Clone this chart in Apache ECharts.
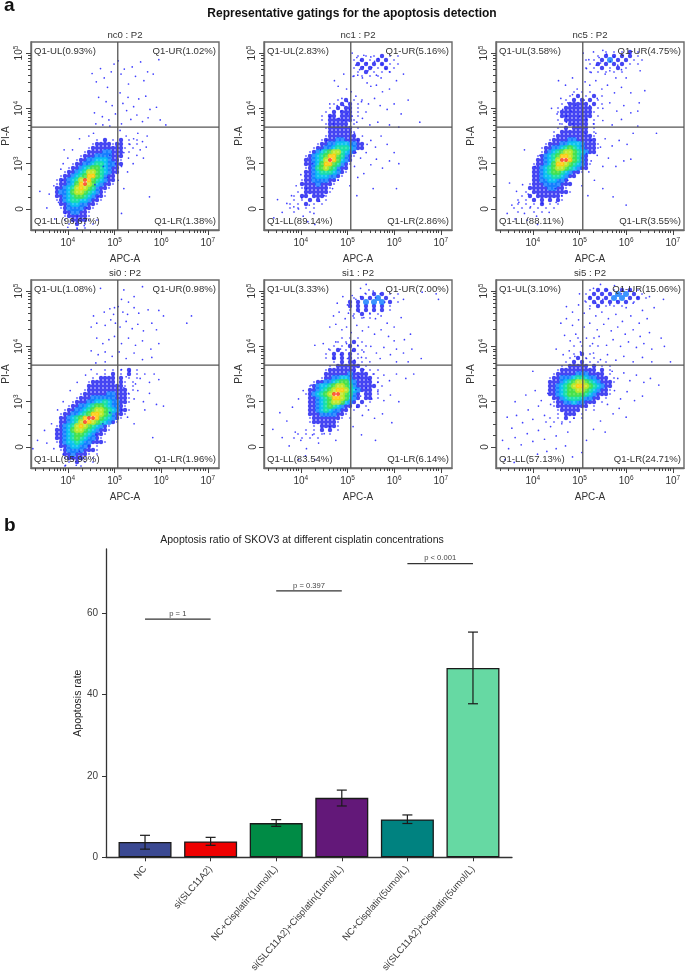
<!DOCTYPE html>
<html><head><meta charset="utf-8">
<style>html,body{margin:0;padding:0;background:#fff}#c{width:685px;height:974px}</style>
<script src="https://cdn.jsdelivr.net/npm/echarts@6/dist/echarts.min.js"></script>
</head><body><div id="c"></div>
<script>
// ---------- Panel a: values ----------
const panelNames = ["nc0","nc1","nc5","si0","si1","si5"];
const ulLabels = ["Q1-UL(0.93%)","Q1-UL(2.83%)","Q1-UL(3.58%)","Q1-UL(1.08%)","Q1-UL(3.33%)","Q1-UL(3.10%)"];
const urLabels = ["Q1-UR(1.02%)","Q1-UR(5.16%)","Q1-UR(4.75%)","Q1-UR(0.98%)","Q1-UR(7.00%)","Q1-UR(15.06%)"];
const llLabels = ["Q1-LL(96.67%)","Q1-LL(89.14%)","Q1-LL(88.11%)","Q1-LL(95.99%)","Q1-LL(83.54%)","Q1-LL(57.13%)"];
const lrLabels = ["Q1-LR(1.38%)","Q1-LR(2.86%)","Q1-LR(3.55%)","Q1-LR(1.96%)","Q1-LR(6.14%)","Q1-LR(24.71%)"];
const xTicks = [4,5,6,7];
const yTicks = [2.18,3,4,5];
const yTickExp = {3:3,4:4,5:5};
const xRange = [3.21,7.24];
const yRange = [1.8,5.2];
const gateX = 5.07;
const gateY = 3.66;
const densityCells = 47;

// density maps: [row from top, digits by column]; digit = colour class, '.' = empty
const nc0Density = [[24,"................1.2.1.2.1.1"],[25,"...............12222122.1.1"],[26,"..............1222222221.1"],[27,".............1222233222.1"],[28,"............12223333222"],[29,"...........122334443221"],[30,"..........1223345543322"],[31,".........1223456654322"],[32,"........12234577654322"],[33,".......12234568865322"],[34,"......122345798654322"],[35,"......122346897643221"],[36,"......22345787653221"],[37,"......2334677654321"],[38,"......2234566543221"],[39,"......123455443221"],[40,".......2234433221"],[41,".......123333221"],[42,"........2233221"],[43,"........1222221"],[44,"........1.22221.1"],[45,".........1.2.1.1"],[46,"...........1.1"]];
const nc1Density = [[3,".......................1.1.1.2.1.1"],[4,"......................1.2.1.2.2.1"],[5,".......................2.2.2.2.1.1"],[6,"......................1.2.2.1.2.1"],[7,".......................1.2.1.1.1"],[8,"......................1.1.1.1"],[14,"..................1.2.1.1"],[15,".................1.2.2.1"],[16,"................1.2.22.1"],[17,"...............1.2.222.1.1"],[18,"..............1.22.222.1"],[19,"..............1.2222221"],[20,"...............122222.1"],[21,"...............1222222.1"],[22,"................2222221"],[23,"...............12222222"],[24,"..............1222332222"],[25,".............122334443322"],[26,"............1223345554322"],[27,"...........123456775432"],[28,"..........1234568865321"],[29,"..........223457986432"],[30,"..........223468865321"],[31,"..........12356765322"],[32,"..........22345554321"],[33,"..........2234443321"],[34,".........1223333221"],[35,".........222232221"],[36,".........12222221"],[37,"........1.2222221"],[38,".......1.22.2221"],[39,".......1.1.2.2.1"],[40,"......1.1.2.1.1"],[41,"......1.1.1.1"],[42,".......1...1"]];
const nc5Density = [[2,"...........................1.1.1.2.1"],[3,".........................1.2.2.2.2.1"],[4,"......................1.1.2.3.2.2.1.1"],[5,".......................1.2.2.2.2.1.1"],[6,"......................1.1.2.1.2.1"],[7,".......................1.1.1.1.1"],[12,"...................1.1.1"],[13,"..................1.2.1.2.1"],[14,".................1.2.2.2.1"],[15,"................1.22222.2.1"],[16,"...............1.2222222.1"],[17,"...............1222222221"],[18,"................22222222.1"],[19,"...............1.222222.1"],[20,"................1.22222.1"],[21,"...............1.2.2222.1"],[22,"..............1.2222222.1"],[23,"..............12222222221"],[24,".............122223322222"],[25,"............12223344432221"],[26,"...........122334565432221"],[27,"...........12345677654322"],[28,"..........1234568876532"],[29,"..........2234579986532"],[30,".........122346887654321"],[31,".........22345677654322"],[32,".........2234566543221"],[33,".........22344554322"],[34,".........223344332"],[35,"........12223333222"],[36,"........2222233221"],[37,".......1.2222222221"],[38,"......1.2.2222221"],[39,".....1.1.2.2.2.21"],[40,".....1.1.1.2.1.1"],[41,"....1.1.1.1.1.1"],[42,".....1...1.1"]];
const si0Density = [[22,"..................1.1.1.2.1"],[23,"................1.1.2.1.2.1"],[24,"...............1.2222.2.1.1"],[25,"..............1222222.21.1"],[26,"..............2222222221.1"],[27,".............12222222222.1"],[28,"............1222222332221"],[29,"...........12223333332221"],[30,"..........122233445433221"],[31,".........122334566543321"],[32,"........12233456776543221"],[33,".......12233456887653221"],[34,".......2234568998654321"],[35,".......223457987654321"],[36,"......12345787654321"],[37,"......22346776543221"],[38,"......2234566543221"],[39,"......223456543321"],[40,"......1234454332221"],[41,".......22344332.1"],[42,".......1233332221"],[43,"........2232221.1"],[44,"........122221.1"],[45,".........1.2.1.1"],[46,"........1...1"]];
const si1Density = [[3,".........................1.2.2.1.1"],[4,"......................1.2.2.3.2.1"],[5,".....................2.2.3.3.3.2.1"],[6,".....................2.2.2.2.2.1"],[7,".....................1.2.2.2.2.1"],[8,"......................1.2.1.1"],[9,"......................1.1.1"],[14,"...................1.1.1"],[15,"..................1.1.2.1"],[16,".................1.1.2.1.1"],[17,"................1.2.1.2.1"],[18,"...............1.2.2.2.1"],[19,"...............1.2.2.2.1.1"],[20,".................1.2.22.1"],[21,"................1.222222.1"],[22,"...............12222222.2.1.1"],[23,"...............22222232222.1"],[24,"..............1223344322222.1"],[25,"............122334566432222.1"],[26,"...........12344567765322222.1"],[27,"...........2234567887543222.1"],[28,"..........12345679976532.22.1"],[29,"...........2234568876432.22.1"],[30,"...........223456776432.2.1"],[31,"...........22345654322.2.1"],[32,"...........2234543322.1"],[33,"...........2223333221"],[34,"...........122222221.1"],[35,"...........12222221"],[36,"............1.22221"],[37,"..........1.1.2.2.1"],[38,"........1.1.1.1.1"],[39,".......1.1.1.1"]];
const si5Density = [[2,".......................1.2.2.1.2.2.1"],[3,"......................1.2.2.2.3.3.2.1"],[4,".......................2.2.2.3.3.2.2.1"],[5,"......................1.2.2.2.2.2.1"],[6,".......................1.2.1.1.1"],[14,"....................1...1"],[16,"...................1.1.1.1"],[18,"...................1.2.1"],[19,"..................1.2.1.1"],[20,".................1.2.2.1.1.1"],[21,"................1.22222.2.1.1"],[22,"...............1222222222.2.1"],[23,"..............1222223332222.1"],[24,".............122333455433222.1"],[25,".............22234567765432221"],[26,".............2234567887654322"],[27,".............2234566776543221"],[28,".............2234566665432221"],[29,"..............223455543322.1"],[30,"..............12233433222.1"],[31,"..............122222222.1"],[32,"...............122222.1.1"],[33,"...............1.222.1"],[34,".............1.1.2.1.1"],[35,"............1.1.1.1"]];

const nc0Dots = [[4.52,4.63],[4.61,4.48],[4.7,4.72],[4.78,4.55],[4.85,4.38],[4.93,4.66],[4.99,4.8],[5.08,4.86],[5.14,4.62],[5.21,4.71],[5.3,4.44],[5.38,4.75],[5.45,4.58],[5.56,4.84],[5.63,4.5],[5.71,4.66],[5.83,4.62],[5.95,4.88],[5.12,4.28],[4.66,4.2],[4.82,4.12],[4.95,4.05],[5.18,4.09],[5.29,4.2],[5.41,4.03],[5.52,4.17],[5.67,4.22],[5.76,3.98],[5.9,4.02],[4.57,3.92],[4.74,3.85],[4.88,3.79],[5.02,3.9],[5.15,3.72],[5.26,3.96],[5.35,3.8],[5.48,3.88],[5.6,3.76],[5.72,3.83],[5.98,3.79],[6.1,3.7],[4.6,3.72],[4.75,3.7],[4.9,3.68],[5.12,3.6],[5.25,3.5],[5.33,3.35],[5.41,3.45],[5.5,3.55],[5.6,3.4],[5.68,3.3],[5.2,3.2],[5.3,3.1],[5.4,3.0],[5.48,3.15],[5.55,3.25],[5.62,3.1],[5.15,2.95],[5.28,2.85],[5.7,3.5],[5.08,2.7],[5.2,2.55],[5.75,2.4],[5.15,2.1],[3.7,2.6],[3.8,2.3],[3.6,2.45],[3.72,2.0],[3.55,2.2],[3.4,2.5],[3.85,2.9],[4.0,3.1],[4.1,3.25],[3.9,3.0],[4.25,3.45],[4.45,3.5],[4.55,3.55],[3.95,2.1],[4.2,2.05],[4.4,2.2],[4.65,2.4],[4.85,2.75],[5.02,3.0],[4.0,1.85],[4.2,1.82],[4.35,1.88],[3.88,2.7],[3.92,3.25],[4.58,2.62],[4.76,2.95],[4.9,3.15]];
const nc1Dots = [[5.1,5.0],[5.2,4.92],[5.28,4.87],[5.35,4.96],[5.42,4.82],[5.5,4.93],[5.58,4.85],[5.66,4.9],[5.74,4.8],[5.82,4.72],[5.9,4.66],[5.18,4.78],[5.26,4.7],[5.34,4.75],[5.44,4.68],[5.52,4.74],[5.62,4.6],[5.72,4.55],[5.12,4.58],[5.22,4.6],[5.32,4.55],[5.42,4.46],[5.5,4.4],[5.62,4.42],[5.75,4.3],[5.9,4.35],[6.05,4.5],[6.2,4.62],[6.3,4.15],[5.08,4.3],[5.18,4.22],[5.3,4.12],[5.45,4.08],[5.58,4.18],[5.7,4.05],[5.85,3.98],[6.0,4.08],[6.15,3.9],[4.72,4.5],[4.8,4.4],[4.92,4.62],[4.98,4.35],[4.88,4.18],[4.62,4.08],[4.78,4.05],[4.86,3.95],[4.92,4.05],[5.0,4.12],[5.05,3.98],[5.1,3.86],[5.0,3.9],[4.82,3.82],[4.92,3.78],[4.7,3.72],[4.62,3.85],[5.2,3.75],[5.32,3.82],[5.48,3.7],[5.65,3.75],[5.9,3.7],[6.1,3.66],[6.55,3.75],[5.15,3.55],[5.22,3.42],[5.32,3.5],[5.42,3.35],[5.5,3.42],[5.6,3.3],[5.72,3.5],[5.85,3.35],[6.0,3.2],[5.18,3.2],[5.28,3.1],[5.4,3.2],[5.5,2.98],[5.62,3.08],[5.75,2.92],[5.9,3.05],[6.1,3.0],[5.15,2.95],[5.22,2.75],[5.35,2.82],[5.05,2.6],[5.2,2.42],[5.55,2.55],[6.05,2.55],[4.0,2.8],[3.9,2.6],[3.8,2.42],[3.7,2.28],[3.6,2.12],[3.5,2.35],[3.42,2.02],[3.95,2.18],[4.05,2.05],[4.18,2.25],[4.28,2.1],[4.4,2.32],[4.5,2.42],[4.15,1.95],[4.3,1.9],[4.02,2.38],[3.85,2.22],[4.12,2.55],[4.25,3.0],[4.15,3.1],[4.42,3.25],[4.55,3.42],[4.68,2.55],[4.8,2.7]];
const nc5Dots = [[5.08,5.0],[5.2,4.88],[5.3,5.02],[5.42,4.92],[5.5,5.05],[5.58,4.98],[5.66,4.85],[5.74,4.93],[5.82,4.78],[5.9,4.7],[5.15,4.72],[5.25,4.65],[5.36,4.78],[5.45,4.82],[5.55,4.62],[5.65,4.68],[5.78,4.55],[6.0,4.55],[6.3,4.68],[5.12,4.48],[5.22,4.42],[5.35,4.5],[5.48,4.35],[5.6,4.42],[5.75,4.28],[5.9,4.38],[6.1,4.28],[6.28,4.1],[6.4,4.32],[5.1,4.15],[5.22,4.05],[5.38,4.18],[5.5,4.0],[5.65,4.1],[5.8,3.95],[5.95,4.05],[6.1,3.92],[6.25,3.95],[4.55,4.5],[4.7,4.42],[4.85,4.55],[4.95,4.35],[4.6,4.18],[4.75,4.1],[4.85,4.25],[4.4,4.0],[4.52,3.9],[4.64,3.98],[4.72,3.86],[4.82,3.95],[4.92,4.05],[5.0,3.85],[4.58,3.72],[4.72,3.75],[4.86,3.72],[5.15,3.8],[5.3,3.72],[5.5,3.78],[5.7,3.7],[5.9,3.8],[6.25,3.68],[6.65,3.55],[5.12,3.55],[5.25,3.42],[5.35,3.55],[5.45,3.3],[5.55,3.45],[5.7,3.32],[5.85,3.42],[6.02,3.35],[6.15,3.55],[5.15,3.18],[5.25,3.05],[5.38,3.15],[5.5,2.95],[5.62,3.1],[5.78,2.95],[5.95,3.05],[6.1,3.08],[5.2,2.85],[5.32,2.7],[5.05,2.6],[5.18,2.42],[5.5,2.55],[5.72,2.4],[6.0,2.25],[3.5,2.65],[3.65,2.5],[3.78,2.62],[3.9,2.45],[3.55,2.25],[3.7,2.3],[3.82,2.1],[3.95,2.22],[4.08,2.05],[4.2,2.28],[4.35,2.12],[4.5,2.3],[4.62,2.42],[3.62,2.0],[3.88,1.98],[4.1,1.9],[3.45,2.1],[4.05,2.95],[4.15,3.15],[3.82,3.25],[4.48,2.55],[4.75,2.7]];
const si0Dots = [[4.7,5.05],[5.2,5.02],[5.6,5.08],[5.15,4.85],[5.3,4.8],[5.42,4.9],[5.0,4.7],[4.9,4.68],[4.78,4.62],[4.98,4.58],[5.08,4.72],[5.18,4.62],[5.28,4.58],[5.42,4.7],[5.52,4.6],[5.72,4.66],[5.95,4.65],[6.05,4.55],[6.65,4.55],[6.55,4.42],[4.55,4.55],[4.5,4.35],[4.62,4.42],[4.8,4.38],[4.92,4.48],[5.02,4.42],[5.12,4.35],[5.25,4.45],[5.38,4.32],[5.5,4.4],[5.62,4.28],[5.8,4.42],[5.9,4.3],[4.62,4.15],[4.75,4.05],[4.88,4.12],[5.0,4.18],[5.15,4.05],[5.3,4.15],[5.45,4.02],[5.6,4.1],[5.78,3.95],[5.95,4.05],[4.5,3.92],[4.65,3.85],[4.8,3.9],[4.95,3.82],[5.1,3.9],[5.25,3.78],[5.42,3.88],[5.6,3.76],[5.8,3.8],[4.6,3.7],[4.8,3.72],[5.15,3.58],[5.25,3.45],[5.33,3.55],[5.45,3.32],[5.55,3.42],[5.65,3.5],[5.75,3.35],[5.85,3.5],[5.95,3.4],[5.2,3.25],[5.3,3.15],[5.42,3.05],[5.5,3.2],[5.62,3.0],[5.75,3.15],[5.9,2.95],[6.05,2.92],[5.15,2.85],[5.28,2.72],[5.42,2.6],[5.82,2.35],[5.65,2.85],[3.25,2.15],[3.35,2.3],[3.5,2.48],[3.55,2.25],[3.65,2.6],[3.7,2.15],[3.78,2.85],[3.9,3.0],[4.05,3.2],[4.2,3.35],[4.38,3.48],[4.5,3.58],[3.9,2.05],[4.1,2.0],[4.25,2.1],[4.45,2.2],[4.6,2.4],[4.75,2.6],[4.9,2.8],[3.95,1.85],[4.18,1.85],[4.3,1.95]];
const si1Dots = [[5.28,5.05],[5.4,5.12],[5.55,5.0],[5.1,4.92],[5.18,4.85],[5.28,4.9],[5.38,4.96],[5.46,5.02],[5.6,4.88],[5.7,4.95],[5.8,4.8],[6.2,4.85],[6.6,4.98],[6.9,4.95],[6.95,4.85],[4.78,4.78],[4.9,4.9],[5.0,4.75],[4.7,4.55],[4.82,4.62],[4.95,4.5],[5.02,4.6],[5.12,4.55],[5.25,4.62],[5.35,4.52],[5.48,4.6],[5.6,4.5],[5.72,4.55],[5.85,4.42],[6.0,4.35],[6.15,4.52],[4.62,4.35],[4.75,4.4],[4.88,4.3],[4.98,4.35],[5.08,4.25],[5.2,4.38],[5.32,4.28],[5.45,4.35],[5.58,4.22],[5.72,4.3],[5.88,4.18],[6.0,4.1],[6.22,4.12],[6.35,4.22],[4.3,4.02],[4.48,4.05],[4.6,3.95],[4.75,4.08],[4.85,3.95],[4.98,4.05],[5.1,3.92],[5.22,4.02],[5.35,3.9],[5.5,4.0],[5.62,3.88],[5.78,3.98],[5.92,3.85],[6.05,3.95],[6.2,3.88],[6.38,3.95],[6.58,3.78],[4.7,3.78],[4.85,3.85],[5.0,3.78],[5.15,3.75],[5.3,3.8],[5.48,3.72],[5.7,3.78],[6.05,3.72],[6.3,3.72],[5.15,3.55],[5.25,3.45],[5.35,3.58],[5.45,3.4],[5.55,3.5],[5.65,3.35],[5.78,3.48],[5.9,3.38],[6.05,3.5],[6.25,3.42],[6.42,3.5],[5.18,3.22],[5.28,3.1],[5.4,3.25],[5.52,3.05],[5.65,3.18],[5.78,3.02],[5.92,3.12],[6.1,3.0],[5.2,2.9],[5.32,2.75],[5.45,2.85],[5.58,2.7],[5.75,2.78],[5.95,2.62],[5.12,2.55],[5.3,2.4],[5.6,2.3],[3.55,2.8],[3.7,2.65],[3.82,2.9],[3.95,3.05],[4.05,3.2],[4.22,3.3],[3.4,2.5],[3.6,2.35],[3.75,2.2],[3.88,2.45],[4.0,2.3],[4.12,2.15],[4.25,2.4],[4.38,2.25],[4.5,2.42],[4.62,2.55],[4.75,2.3],[3.95,1.95],[4.1,2.02],[4.3,1.95]];
const si5Dots = [[5.3,5.05],[5.45,5.12],[5.6,5.02],[5.75,5.1],[5.9,4.95],[6.05,5.0],[6.25,4.88],[6.5,4.9],[6.8,4.85],[5.0,4.95],[5.12,4.82],[5.22,4.9],[5.35,4.78],[5.5,4.85],[5.65,4.75],[5.8,4.82],[6.0,4.7],[6.15,4.78],[6.35,4.65],[6.6,4.7],[4.72,4.72],[4.85,4.62],[4.98,4.75],[5.1,4.6],[5.22,4.68],[5.35,4.55],[5.48,4.62],[5.62,4.5],[5.78,4.58],[5.92,4.45],[6.1,4.55],[6.28,4.42],[6.45,4.5],[4.6,4.42],[4.72,4.5],[4.85,4.38],[4.98,4.48],[5.1,4.35],[5.22,4.42],[5.38,4.3],[5.52,4.4],[5.68,4.28],[5.82,4.35],[5.98,4.22],[6.15,4.3],[6.3,4.18],[6.5,4.25],[6.75,4.15],[4.68,4.2],[4.8,4.1],[4.92,4.22],[5.02,4.08],[5.15,4.15],[5.28,4.05],[5.42,4.18],[5.58,4.02],[5.72,4.12],[5.88,4.0],[6.05,4.08],[6.22,3.98],[6.38,4.05],[6.55,3.95],[6.82,4.0],[4.5,3.95],[4.65,3.85],[4.78,3.92],[4.9,3.82],[5.02,3.9],[5.15,3.78],[5.3,3.88],[5.45,3.76],[5.6,3.85],[5.78,3.75],[5.95,3.82],[6.15,3.72],[6.35,3.8],[6.55,3.72],[6.95,3.72],[5.7,3.55],[5.82,3.42],[5.95,3.52],[6.08,3.38],[6.22,3.48],[6.38,3.35],[6.52,3.42],[6.7,3.3],[5.75,3.2],[5.88,3.05],[6.02,3.18],[6.18,3.02],[6.35,3.1],[5.6,2.95],[5.72,2.78],[5.85,2.88],[6.0,2.72],[5.45,2.65],[5.55,2.45],[5.3,2.5],[5.15,2.3],[5.05,2.08],[3.45,2.72],[3.55,2.52],[3.65,2.75],[3.78,2.62],[3.9,2.85],[4.0,2.68],[4.12,2.92],[4.25,2.75],[4.38,2.95],[3.35,2.3],[3.48,2.15],[3.62,2.35],[3.75,2.22],[3.88,2.42],[4.0,2.28],[4.12,2.48],[4.25,2.32],[4.38,2.55],[4.5,2.38],[4.62,2.6],[4.75,2.45],[4.88,2.7],[3.62,3.0],[3.85,3.12],[4.05,3.2],[4.18,3.02],[4.32,3.15],[4.0,3.55],[3.4,1.95],[3.6,1.9],[4.1,2.05],[4.3,2.1],[4.5,2.15],[4.7,2.2],[4.85,2.0]];

const densities = [nc0Density,nc1Density,nc5Density,si0Density,si1Density,si5Density];
const dots = [nc0Dots,nc1Dots,nc5Dots,si0Dots,si1Dots,si5Dots];

// ---------- Panel b ----------
const categories = ["NC","si(SLC11A2)","NC+Cisplatin(1umol/L)","si(SLC11A2)+Cisplatin(1umol/L)","NC+Cisplatin(5umol/L)","si(SLC11A2)+Cisplatin(5umol/L)"];
const rates = [3.76,3.9,8.4,14.6,9.3,46.5];
const errLow = [2.0,2.95,7.6,12.6,8.3,37.7];
const errHigh = [5.4,4.9,9.25,16.5,10.4,55.3];
const barColors = ["#3B4992","#EE0000","#008B45","#631879","#008280","#66D9A3"];
const brackets = [[0,1,58.5,"p = 1"],[2,3,65.4,"p = 0.397"],[4,5,72.1,"p < 0.001"]];

// ---------- Layout & style ----------
const panelLefts = [31,264,496,31,264,496];
const panelTops = [42,42,42,280,280,280];
const panelSize = 188;
const levelColors = ['', 'rgba(40,40,255,0.75)','#1818f0','#0a78ff','#00c0f0','#10e0a0','#40e040','#c0e820','#ffc800','#ff3010'];
const levelSizes = [0,2.2,4.4,6,6,6,6,6,5,4];
const FONT = '"Liberation Sans", Arial, sans-serif';
const dark = '#333';
const frame = '#6a6a6a';

const grids=[], xAxes=[], yAxes=[], series=[], graphics=[];
function logMinors(from,to){ const out=[]; for(let d=from;d<to;d++) for(let m=2;m<10;m++) out.push(d+Math.log10(m)); return out; }
const xMinor = logMinors(3,8).filter(v=>v>xRange[0]&&v<xRange[1]);
const yMinor = logMinors(3,5).concat([2.4,2.6,2.8]).filter(v=>v<yRange[1]);

panelNames.forEach((name,i)=>{
  const L=panelLefts[i], T=panelTops[i], S=panelSize;
  grids.push({left:L,top:T,width:S,height:S,show:true,borderColor:frame,borderWidth:1.4,backgroundColor:'#fff',outerBoundsMode:'none'});
  const xi=xAxes.length, yi=yAxes.length;
  xAxes.push({gridIndex:i,type:'value',min:xRange[0],max:xRange[1],position:'bottom',name:'APC-A',nameLocation:'middle',nameGap:24,nameMoveOverlap:false,
    nameTextStyle:{fontSize:10,color:dark,fontFamily:FONT},splitLine:{show:false},
    axisLine:{onZero:false,lineStyle:{color:frame,width:1.4}},axisTick:{customValues:xTicks,length:5,lineStyle:{color:'#444'}},
    axisLabel:{customValues:xTicks,margin:7,hideOverlap:false,showMinLabel:true,showMaxLabel:true,
      formatter:v=>'{b|10}{s|'+v+'}',rich:{b:{fontSize:10,color:dark,fontFamily:FONT},s:{fontSize:6.5,color:dark,fontFamily:FONT,verticalAlign:'top',padding:[0,0,5,0]}}}});
  xAxes.push({gridIndex:i,type:'value',min:xRange[0],max:xRange[1],position:'bottom',splitLine:{show:false},
    axisLine:{show:false,onZero:false},axisLabel:{show:false},axisTick:{customValues:xMinor,length:3,lineStyle:{color:'#444'}}});
  yAxes.push({gridIndex:i,type:'value',min:yRange[0],max:yRange[1],position:'left',name:'PI-A',nameLocation:'middle',nameGap:20,nameMoveOverlap:false,
    nameTextStyle:{fontSize:10,color:dark,fontFamily:FONT},splitLine:{show:false},
    axisLine:{onZero:false,lineStyle:{color:frame,width:1.4}},axisTick:{customValues:yTicks,length:5,lineStyle:{color:'#444'}},
    axisLabel:{customValues:yTicks,margin:6,rotate:90,hideOverlap:false,
      formatter:v=>yTickExp[v]?'{b|10}{s|'+yTickExp[v]+'}':'{b|0}',rich:{b:{fontSize:10,color:dark,fontFamily:FONT},s:{fontSize:6.5,color:dark,fontFamily:FONT,verticalAlign:'top',padding:[0,0,5,0]}}}});
  yAxes.push({gridIndex:i,type:'value',min:yRange[0],max:yRange[1],position:'left',splitLine:{show:false},
    axisLine:{show:false,onZero:false},axisLabel:{show:false},axisTick:{customValues:yMinor,length:3,lineStyle:{color:'#444'}}});

  // density cloud, low classes first so the hot core sits on top
  const cells=[];
  densities[i].forEach(([r,row])=>{ [...row].forEach((ch,c)=>{ const lv=+ch; if(lv>0) cells.push([
    xRange[0]+(c+0.5)*(xRange[1]-xRange[0])/densityCells, yRange[1]-(r+0.5)*(yRange[1]-yRange[0])/densityCells, lv]); }); });
  cells.sort((a,b)=>a[2]-b[2]);
  series.push({type:'scatter',xAxisIndex:xi,yAxisIndex:yi,data:cells,silent:true,animation:false,large:false,progressive:0,
    symbolSize:v=>levelSizes[v[2]],itemStyle:{color:p=>levelColors[p.value[2]]}});
  series.push({type:'scatter',xAxisIndex:xi,yAxisIndex:yi,data:dots[i],silent:true,symbolSize:1.7,animation:false,
    itemStyle:{color:'#1c1cff',opacity:0.85}});
  // quadrant gates
  series.push({type:'line',xAxisIndex:xi,yAxisIndex:yi,data:[[gateX,yRange[0]],[gateX,yRange[1]]],silent:true,symbol:'none',animation:false,lineStyle:{color:'#555',width:1.3}});
  series.push({type:'line',xAxisIndex:xi,yAxisIndex:yi,data:[[xRange[0],gateY],[xRange[1],gateY]],silent:true,symbol:'none',animation:false,lineStyle:{color:'#555',width:1.3}});

  const t={fontSize:9.6,fontFamily:FONT,fill:dark};
  const txt=(x,y,s,align)=>graphics.push({type:'text',z:100,x,y,style:Object.assign({},t,{text:s,textAlign:align,textVerticalAlign:'middle'})});
  txt(L+3,T+9,ulLabels[i],'left'); txt(L+S-3,T+9,urLabels[i],'right');
  txt(L+3,T+S-9,llLabels[i],'left'); txt(L+S-3,T+S-9,lrLabels[i],'right');
  graphics.push({type:'text',z:100,x:L+S/2,y:T-7,style:{text:name+' : P2',fontSize:9.6,fontFamily:FONT,fill:dark,textAlign:'center',textVerticalAlign:'middle'}});
});

// Bar chart
const bi=panelNames.length, bx=xAxes.length, by=yAxes.length;
grids.push({left:106,top:549,width:406,height:308.3,outerBoundsMode:'none'});
xAxes.push({gridIndex:bi,type:'value',min:-0.595,max:5.595,splitLine:{show:false},
  axisLine:{onZero:false,lineStyle:{color:'#333',width:1.3}},axisTick:{customValues:[0,1,2,3,4,5],length:4,lineStyle:{color:'#333'}},
  axisLabel:{customValues:[0,1,2,3,4,5],rotate:49,margin:10,hideOverlap:false,fontSize:9.5,color:'#3c3c3c',fontFamily:FONT,formatter:v=>categories[v]}});
yAxes.push({gridIndex:bi,type:'value',min:0,max:75.7,name:'Apoptosis rate',nameLocation:'middle',nameGap:22,nameMoveOverlap:false,nameTextStyle:{fontSize:10.5,color:'#222',fontFamily:FONT},
  splitLine:{show:false},axisLine:{onZero:false,lineStyle:{color:'#333',width:1.3}},axisTick:{customValues:[0,20,40,60],length:4,lineStyle:{color:'#333'}},
  axisLabel:{customValues:[0,20,40,60],margin:8,fontSize:10,color:'#3c3c3c',fontFamily:FONT}});
series.push({type:'bar',xAxisIndex:bx,yAxisIndex:by,barWidth:53,animation:false,silent:true,
  data:rates.map((v,i)=>({value:[i,v],itemStyle:{color:barColors[i],borderColor:'#1a1a1a',borderWidth:1.3}}))});
series.push({type:'custom',xAxisIndex:bx,yAxisIndex:by,animation:false,silent:true,clip:false,z:5,
  data:rates.map((v,i)=>[i,errLow[i],errHigh[i]]),
  renderItem:(p,api)=>{const x=api.value(0),a=api.coord([x,api.value(1)]),b=api.coord([x,api.value(2)]);const st={stroke:'#1a1a1a',lineWidth:1.2};
    return {type:'group',children:[
      {type:'line',shape:{x1:a[0],y1:a[1],x2:b[0],y2:b[1]},style:st},
      {type:'line',shape:{x1:a[0]-5,y1:a[1],x2:a[0]+5,y2:a[1]},style:st},
      {type:'line',shape:{x1:b[0]-5,y1:b[1],x2:b[0]+5,y2:b[1]},style:st}]};}});
series.push({type:'custom',xAxisIndex:bx,yAxisIndex:by,animation:false,silent:true,clip:false,z:5,
  data:brackets.map(b=>[b[0],b[1],b[2]]),
  renderItem:(p,api)=>{const a=api.coord([api.value(0),api.value(2)]),b=api.coord([api.value(1),api.value(2)]);
    return {type:'group',children:[
      {type:'line',shape:{x1:a[0],y1:a[1],x2:b[0],y2:b[1]},style:{stroke:'#333',lineWidth:1.2}},
      {type:'text',style:{x:(a[0]+b[0])/2,y:a[1]-5.5,text:brackets[p.dataIndex][3],fontSize:7.6,fontFamily:FONT,fill:'#444',textAlign:'center',textVerticalAlign:'middle'}}]};}});

graphics.push({type:'text',z:100,x:4,y:6,style:{text:'a',fontSize:19,fontWeight:'bold',fontFamily:FONT,fill:'#111',textAlign:'left',textVerticalAlign:'middle'}});
graphics.push({type:'text',z:100,x:4,y:526,style:{text:'b',fontSize:19,fontWeight:'bold',fontFamily:FONT,fill:'#111',textAlign:'left',textVerticalAlign:'middle'}});
graphics.push({type:'text',z:100,x:352,y:13.5,style:{text:'Representative gatings for the apoptosis detection',fontSize:12,fontWeight:'bold',fontFamily:FONT,fill:'#111',textAlign:'center',textVerticalAlign:'middle'}});
graphics.push({type:'text',z:100,x:302,y:540,style:{text:'Apoptosis ratio of SKOV3 at different cisplatin concentrations',fontSize:10.5,fontFamily:FONT,fill:'#222',textAlign:'center',textVerticalAlign:'middle'}});

const chart=echarts.init(document.getElementById('c'),null,{renderer:'canvas',width:685,height:974});
chart.setOption({animation:false,backgroundColor:'#fff',grid:grids,xAxis:xAxes,yAxis:yAxes,series,graphic:graphics});
</script></body></html>
